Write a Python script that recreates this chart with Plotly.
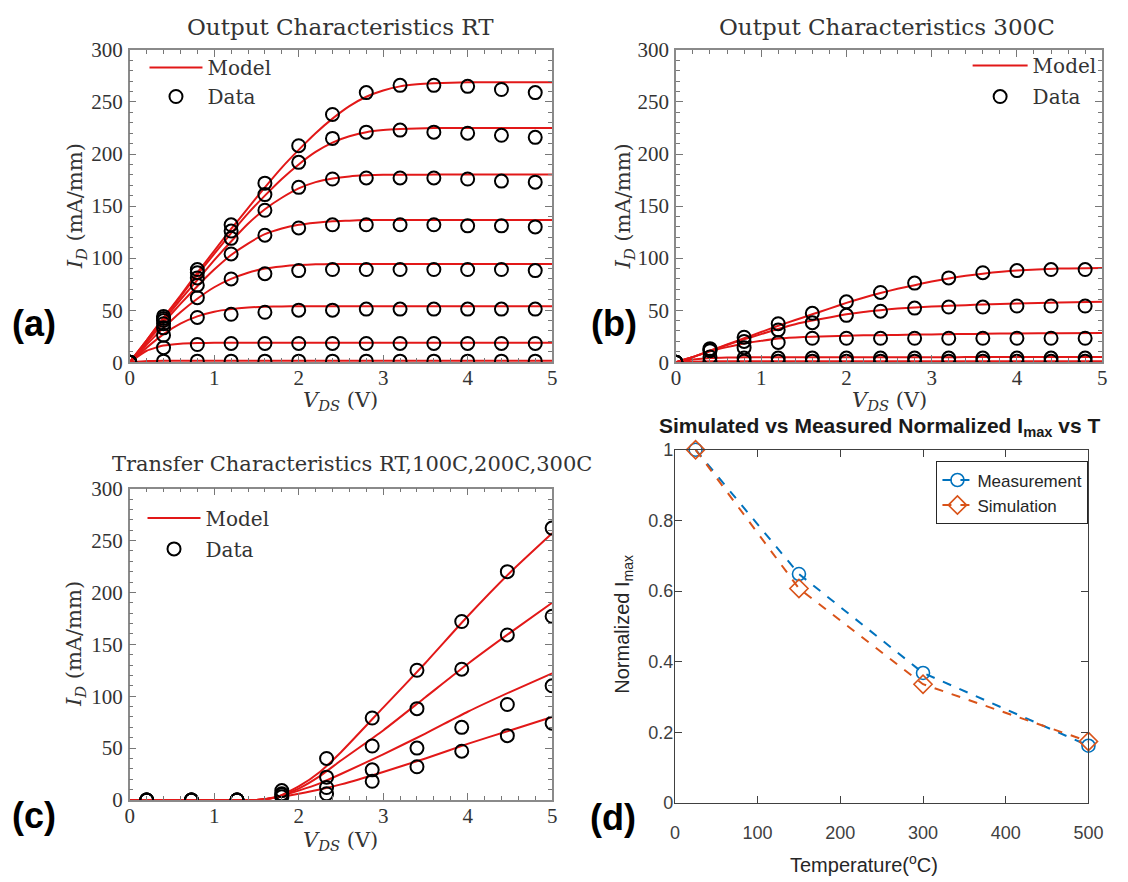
import plotly.graph_objects as go

W, H = 1128, 882
def px(x): return x / W
def py(y): return 1 - y / H

# ---------------- (a) Output characteristics RT ----------------
vds_data = [0, 0.4, 0.8, 1.2, 1.6, 2.0, 2.4, 2.8, 3.2, 3.6, 4.0, 4.4, 4.8]
rt_data_1 = [0, 44, 89, 132, 172, 208, 238, 259, 266, 266, 265, 262, 259]
rt_data_2 = [0, 42, 86, 126, 161, 192, 215, 221, 223, 221, 220, 218, 216]
rt_data_3 = [0, 40, 81, 119, 146, 168, 176, 177, 177, 177, 176, 174, 173]
rt_data_4 = [0, 37, 74, 104, 122, 129, 132, 132, 132, 132, 131, 131, 130]
rt_data_5 = [0, 33, 62, 80, 85, 88, 89, 89, 89, 89, 89, 89, 88]
rt_data_6 = [0, 26, 43, 46, 48, 50, 50, 51, 51, 51, 51, 51, 51]
rt_data_7 = [0, 14, 17, 18, 18, 18, 18, 18, 18, 18, 18, 18, 18]
rt_data_8 = [0, 1, 1, 1, 1, 1, 1, 1, 1, 1, 1, 1, 1]

vds_model = [0, 0.2, 0.4, 0.6, 0.8, 1.0, 1.2, 1.4, 1.6, 1.8, 2.0, 2.2, 2.4,
             2.6, 2.8, 3.0, 3.2, 3.4, 3.6, 4.0, 4.5, 5.0]
rt_model_1 = [0, 21, 43, 64, 86, 107, 128, 148, 168, 187, 204, 220, 234,
              246, 255, 261, 265, 267, 268, 269, 269, 269]
rt_model_2 = [0, 21, 42, 63, 84, 104, 124, 143, 160, 176, 190, 202, 211,
              217, 221, 223, 224, 224.5, 225, 225, 225, 225]
rt_model_3 = [0, 20, 40, 60, 79, 98, 116, 133, 147, 158, 167, 173, 176.5,
              178.5, 179.5, 180, 180, 180, 180.3, 180.3, 180.3, 180.3]
rt_model_4 = [0, 19, 38, 56, 73, 89, 103, 114, 123, 128.5, 132, 134, 135.5,
              136, 136.5, 136.6, 136.6, 136.6, 136.6, 136.6, 136.6, 136.6]
rt_model_5 = [0, 17, 33, 48, 61, 72, 80, 86, 90, 92, 93.3, 94, 94.3,
              94.4, 94.4, 94.4, 94.4, 94.4, 94.4, 94.4, 94.4, 94.4]
rt_model_6 = [0, 14, 27, 37, 44, 48.5, 51, 52.5, 53.3, 53.6, 53.8, 53.8, 53.8,
              53.8, 53.8, 53.8, 53.8, 53.8, 53.8, 53.8, 53.8, 53.8]
rt_model_7 = [0, 11, 16, 17.8, 18.4, 18.6, 18.7, 18.75, 18.75, 18.75, 18.75, 18.75, 18.75,
              18.75, 18.75, 18.75, 18.75, 18.75, 18.75, 18.75, 18.75, 18.75]
rt_model_8 = [0, 1.2, 1.5, 1.5, 1.5, 1.5, 1.5, 1.5, 1.5, 1.5, 1.5, 1.5, 1.5,
              1.5, 1.5, 1.5, 1.5, 1.5, 1.5, 1.5, 1.5, 1.5]

# ---------------- (b) Output characteristics 300C ----------------
ht_data_1 = [0, 13, 24, 37, 47, 58, 67, 76, 81, 86, 88, 89, 89]
ht_data_2 = [0, 12, 20, 31, 38, 45, 49, 52, 53, 53, 54, 54, 54]
ht_data_3 = [0, 11, 14, 19, 23, 23, 23, 23, 23, 23, 23, 23, 23]
ht_data_4 = [0, 5, 4, 4, 4, 4, 4, 4, 4, 4, 4, 4, 4]
ht_data_5 = [0, 1, 1, 1, 1, 1, 1, 1, 1, 1, 1, 1, 1]

ht_model_1 = [0, 5, 11, 17, 23, 29, 35, 40.5, 46, 51.5, 57, 62, 66.5,
              70.5, 74, 77.5, 80.5, 83, 85, 88, 90, 90.6]
ht_model_2 = [0, 5, 11, 16.5, 22, 27, 32, 36.5, 40, 43, 46, 48.3, 50,
              51.5, 52.5, 53.5, 54.2, 54.8, 55.5, 56.5, 57.3, 58]
ht_model_3 = [0, 5, 10.5, 14.5, 18, 20.5, 22.8, 23.8, 24.5, 25, 25.5, 25.8, 26,
              26.2, 26.5, 26.7, 26.9, 27.1, 27.3, 27.6, 27.8, 28]
ht_model_4 = [0, 2.5, 4, 4.5, 4.7, 4.7, 4.7, 4.7, 4.7, 4.7, 4.7, 4.7, 4.8,
              4.8, 4.8, 4.8, 4.8, 4.9, 4.9, 4.9, 5, 5]
ht_model_5 = [0, 0.5, 0.8, 1, 1, 1, 1, 1, 1, 1, 1, 1, 1,
              1, 1, 1, 1, 1, 1, 1, 1, 1]

# ---------------- (c) Transfer characteristics ----------------
vgs_data = [0.2, 0.73, 1.27, 1.8, 2.33, 2.87, 3.4, 3.93, 4.47, 5.0]
tr_data_rt = [0, 0, 0, 9, 40, 79, 125, 172, 220, 262]
tr_data_100 = [0, 0, 0, 6, 22, 52, 88, 126, 159, 177]
tr_data_200 = [0, 0, 0, 5, 12, 29, 50, 70, 92, 110]
tr_data_300 = [0, 0, 0, 3, 6, 18, 32, 47, 62, 74]

vgs_model = [0, 0.5, 1.0, 1.5, 1.75, 2.0, 2.25, 2.5, 3.0, 3.5, 4.0, 4.5, 5.0]
tr_model_rt = [0, 0, 0, 0, 3, 13, 27, 46, 89, 132, 177, 219, 257]
tr_model_100 = [0, 0, 0, 0, 3, 11, 23, 38, 67, 99, 131, 161, 190]
tr_model_200 = [0, 0, 0, 0, 3, 9, 16, 25, 44, 64, 85, 104, 122]
tr_model_300 = [0, 0, 0, 0, 2.5, 6, 10, 15, 27, 40, 54, 67, 80]

# ---------------- (d) Normalized Imax vs T ----------------
temperature = [25, 150, 300, 500]
imax_measurement = [1.0, 0.648, 0.368, 0.162]
imax_simulation = [1.0, 0.607, 0.336, 0.174]

# ---------------- styling ----------------
SERIF = "DejaVu Serif"
TICKF = "Liberation Serif"
SANS = "Liberation Sans"
RED = "rgb(226,24,24)"
TXT = "#333333"

fig = go.Figure()

def add_models(xs, ys_list, xa, ya, leg):
    for i, ys in enumerate(ys_list):
        fig.add_trace(go.Scatter(
            x=xs, y=ys, mode="lines", name="Model",
            line=dict(color=RED, width=2, shape="spline", smoothing=0.5),
            xaxis=xa, yaxis=ya, legend=leg, showlegend=(i == 0),
            legendgroup=leg + "model"))

def add_data(xs, ys_list, xa, ya, leg):
    for i, ys in enumerate(ys_list):
        fig.add_trace(go.Scatter(
            x=xs, y=ys, mode="markers", name="Data",
            marker=dict(symbol="circle-open", size=13, color="black",
                        line=dict(width=2, color="black")),
            xaxis=xa, yaxis=ya, legend=leg, showlegend=(i == 0),
            legendgroup=leg + "data"))

add_models(vds_model, [rt_model_1, rt_model_2, rt_model_3, rt_model_4,
                       rt_model_5, rt_model_6, rt_model_7, rt_model_8], "x", "y", "legend")
add_data(vds_data, [rt_data_1, rt_data_2, rt_data_3, rt_data_4,
                    rt_data_5, rt_data_6, rt_data_7, rt_data_8], "x", "y", "legend")

add_models(vds_model, [ht_model_1, ht_model_2, ht_model_3, ht_model_4, ht_model_5],
           "x2", "y2", "legend2")
add_data(vds_data, [ht_data_1, ht_data_2, ht_data_3, ht_data_4, ht_data_5],
         "x2", "y2", "legend2")

add_models(vgs_model, [tr_model_rt, tr_model_100, tr_model_200, tr_model_300],
           "x3", "y3", "legend3")
add_data(vgs_data, [tr_data_rt, tr_data_100, tr_data_200, tr_data_300],
         "x3", "y3", "legend3")

BLUE = "#0072BD"
ORANGE = "#D95319"
fig.add_trace(go.Scatter(
    x=temperature, y=imax_measurement, mode="lines+markers", name="Measurement",
    line=dict(color=BLUE, width=2, dash="dash"),
    marker=dict(symbol="circle-open", size=13, color=BLUE, line=dict(width=1.6, color=BLUE)),
    xaxis="x4", yaxis="y4", legend="legend4", cliponaxis=False))
fig.add_trace(go.Scatter(
    x=temperature, y=imax_simulation, mode="lines+markers", name="Simulation",
    line=dict(color=ORANGE, width=2, dash="dash"),
    marker=dict(symbol="diamond-open", size=14, color=ORANGE, line=dict(width=1.6, color=ORANGE)),
    xaxis="x4", yaxis="y4", legend="legend4", cliponaxis=False))

def serif_axis(domain, rng, dtick, minor_dtick, anchor, standoff):
    return dict(domain=domain, range=rng, dtick=dtick, tick0=0, anchor=anchor,
                ticks="inside", ticklen=7, tickwidth=1, tickcolor="#777",
                showline=True, linecolor="#8a8a8a", linewidth=1.5, mirror="ticks",
                showgrid=False, zeroline=False, ticklabelstandoff=standoff,
                tickfont=dict(family=TICKF, size=21, color=TXT),
                minor=dict(ticks="inside", ticklen=4, dtick=minor_dtick,
                           tickcolor="#777", showgrid=False))

xa_dom = [px(127), px(557)]
xb_dom = [px(683), px(1117)]
yab_dom = [py(360), py(39)]
yc_dom = [py(810), py(490)]

matlab_tick = dict(family=SANS, size=18, color="#404040")
serif_leg = dict(family=SERIF, size=20, color=TXT)
fig.update_layout(
    width=W, height=H, margin=dict(l=0, r=0, t=0, b=0),
    paper_bgcolor="white", plot_bgcolor="white",
    xaxis=serif_axis(xa_dom, [0, 5], 1, 0.2, "y", -4),
    yaxis=serif_axis(yab_dom, [0, 300], 50, 10, "x", 1),
    xaxis2=serif_axis(xb_dom, [0, 5], 1, 0.2, "y2", -4),
    yaxis2=serif_axis(yab_dom, [0, 300], 50, 10, "x2", 1),
    xaxis3=serif_axis(xa_dom, [0, 5], 1, 0.2, "y3", -4),
    yaxis3=serif_axis(yc_dom, [0, 300], 50, 10, "x3", 1),
    xaxis4=dict(domain=[px(682), px(1103)], range=[0, 500], dtick=100, anchor="y4",
                ticks="inside", ticklen=7, tickcolor="#404040", showline=True,
                linecolor="#404040", linewidth=1.2, mirror="ticks", showgrid=False,
                zeroline=False, tickfont=matlab_tick, ticklabelstandoff=13),
    yaxis4=dict(domain=[py(813), py(450)], range=[0, 1], dtick=0.2, anchor="x4",
                ticks="inside", ticklen=7, tickcolor="#404040", showline=True,
                linecolor="#404040", linewidth=1.2, mirror="ticks", showgrid=False,
                zeroline=False, tickfont=matlab_tick, ticklabelstandoff=-3),
    legend=dict(x=px(142), y=py(37), xanchor="left", yanchor="top", itemwidth=53,
                tracegroupgap=0, bgcolor="rgba(0,0,0,0)", font=serif_leg),
    legend2=dict(x=px(980), y=py(35), xanchor="left", yanchor="top", itemwidth=55,
                 tracegroupgap=2, bgcolor="rgba(0,0,0,0)", font=serif_leg),
    legend3=dict(x=px(140), y=py(500), xanchor="left", yanchor="top", itemwidth=53,
                 tracegroupgap=2, bgcolor="rgba(0,0,0,0)", font=serif_leg),
    legend4=dict(x=px(1103), y=py(462), xanchor="right", yanchor="top",
                 bgcolor="white", bordercolor="#262626", borderwidth=1,
                 font=dict(family=SANS, size=17, color="#262626")),
)

ann = []
def text(x, y, t, font, angle=0, xanchor="center", yanchor="middle"):
    ann.append(dict(x=px(x), y=py(y), xref="paper", yref="paper", text=t,
                    showarrow=False, font=font, textangle=angle,
                    xanchor=xanchor, yanchor=yanchor))

title_font = dict(family=SERIF, size=23, color=TXT)
label_font = dict(family=SERIF, size=21, color=TXT)
text(342, 15, "Output Characteristics RT", title_font)
text(898, 15, "Output Characteristics 300C", title_font)
text(353, 465, "Transfer Characteristics RT,100C,200C,300C",
     dict(family=SERIF, size=21, color=TXT))

vds_label = "<i>V<sub>DS</sub></i> (V)"
id_label = "<i>I<sub>D</sub></i> (mA/mm)"
text(342, 400, vds_label, label_font)
text(900, 400, vds_label, label_font)
text(342, 852, vds_label, label_font)
text(72, 200, id_label, label_font, angle=-90)
text(630, 200, id_label, label_font, angle=-90)
text(72, 650, id_label, label_font, angle=-90)

text(891, 427, "<b>Simulated vs Measured Normalized I<sub>max</sub> vs T</b>",
     dict(family=SANS, size=21, color="#1a1a1a"))
text(630, 629, "Normalized I<sub>max</sub>", dict(family=SANS, size=20, color="#262626"), angle=-90)
text(875, 875, "Temperature(<sup>o</sup>C)", dict(family=SANS, size=20, color="#262626"))

panel_font = dict(family=SANS, size=36, color="black")
text(30, 320, "<b>(a)</b>", panel_font)
text(620, 320, "<b>(b)</b>", panel_font)
text(30, 826, "<b>(c)</b>", panel_font)
text(619, 828, "<b>(d)</b>", panel_font)

fig.update_layout(annotations=ann)
fig.write_html("out.html")
